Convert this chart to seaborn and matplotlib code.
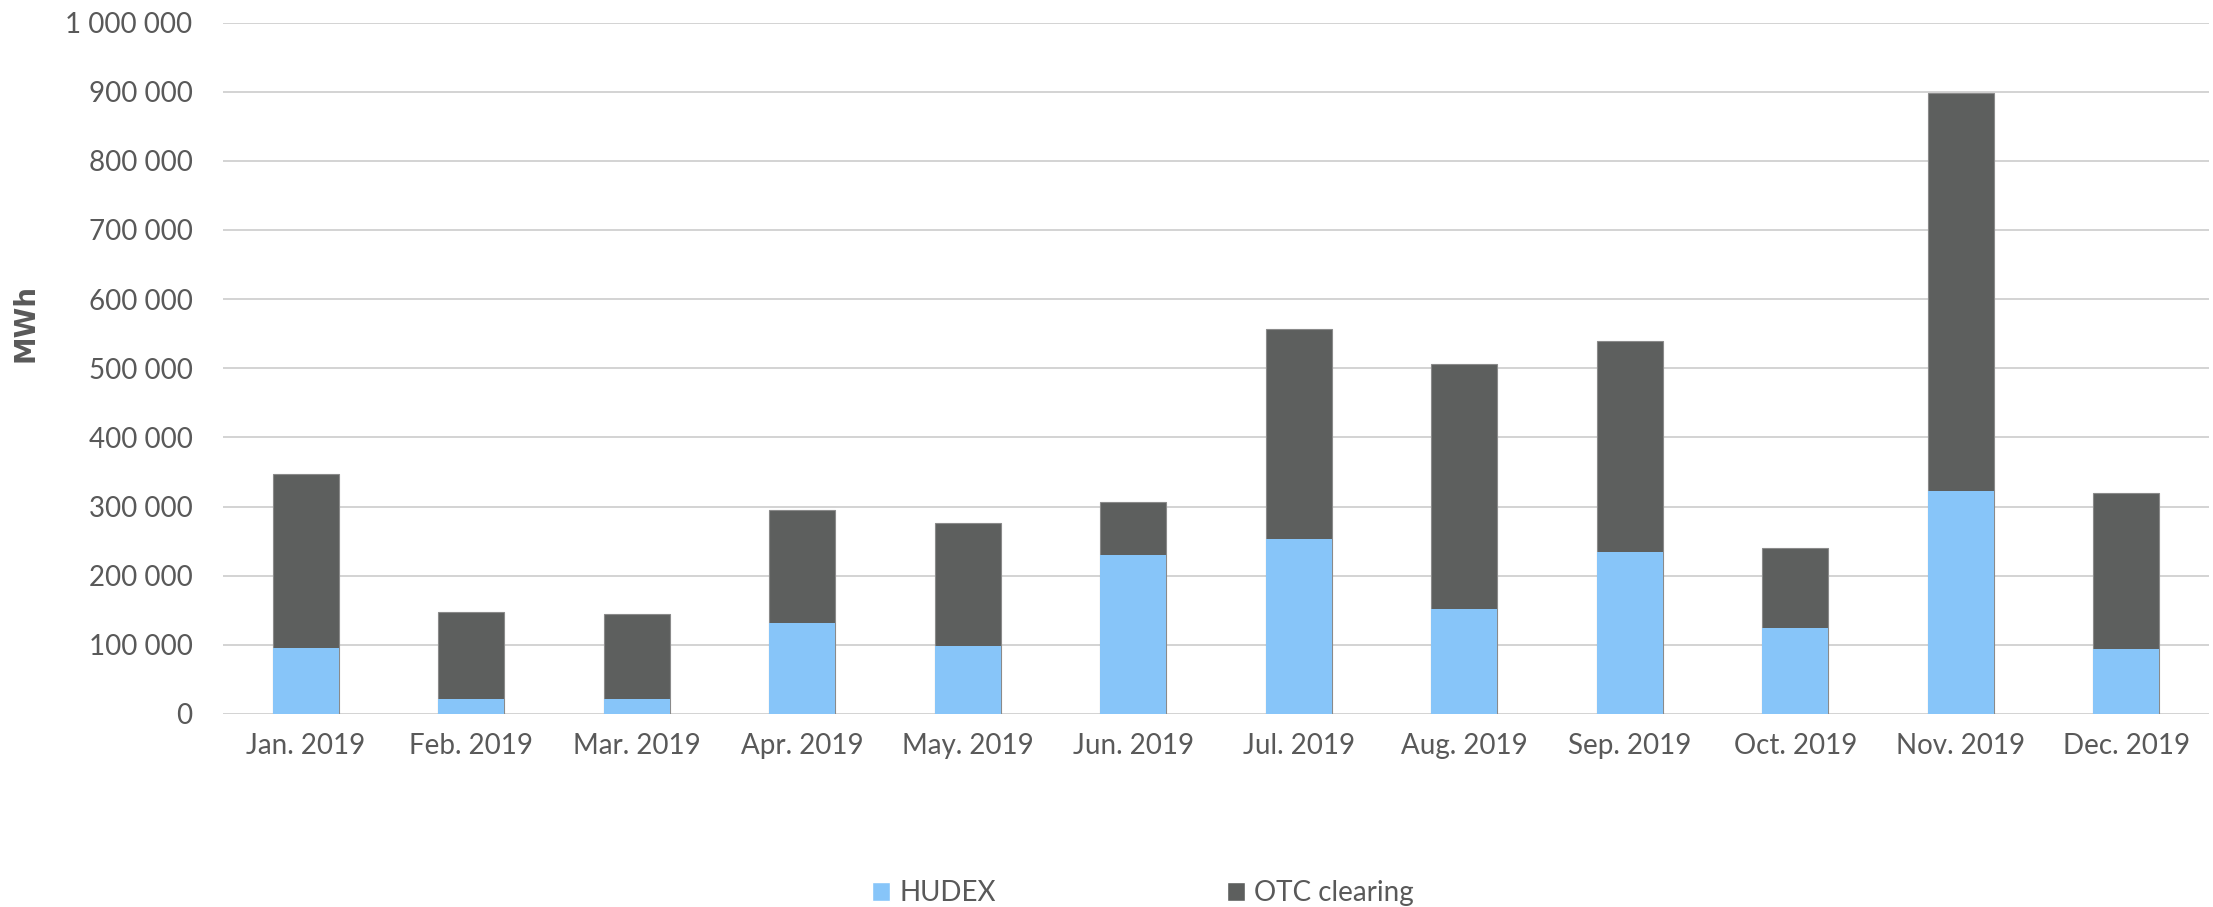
import matplotlib
matplotlib.use("Agg")
import matplotlib.pyplot as plt
import seaborn as sns
import pandas as pd
from matplotlib.ticker import FuncFormatter, MultipleLocator
from matplotlib.patches import Patch

months = ["Jan. 2019", "Feb. 2019", "Mar. 2019", "Apr. 2019", "May. 2019", "Jun. 2019",
          "Jul. 2019", "Aug. 2019", "Sep. 2019", "Oct. 2019", "Nov. 2019", "Dec. 2019"]
hudex = [95400, 22400, 22400, 131200, 98400, 229800, 252900, 151700, 234600, 123700, 322000, 94700]
otc = [251700, 125400, 122400, 164100, 177600, 77500, 303500, 355000, 304900, 116100, 575600, 224500]

c_hudex = "#87C5F9"
c_otc = "#5D5F5E"
txt = "#595959"

sns.set_theme(style="white")
plt.rcParams['font.family'] = ['Lato', 'DejaVu Sans']

df = pd.DataFrame({"month": months, "HUDEX": hudex, "OTC": otc})
df["total"] = df["HUDEX"] + df["OTC"]

fig = plt.figure(figsize=(22.13, 9.07), dpi=100)
ax = fig.add_axes([223/2213, 1-714/907, (2209-223)/2213, (714-22.5)/907])

sns.barplot(data=df, x="month", y="total", color=c_otc, width=0.4, ax=ax,
            edgecolor="#8a8a8a", linewidth=0.8, saturation=1)
sns.barplot(data=df, x="month", y="HUDEX", color=c_hudex, width=0.4, ax=ax,
            linewidth=0, saturation=1)

ax.set_ylim(0, 1000000)
ax.set_xlim(-0.5, len(months)-0.5)
ax.yaxis.set_major_locator(MultipleLocator(100000))
ax.yaxis.set_major_formatter(FuncFormatter(lambda v, p: f"{int(v):,}".replace(",", " ")))
ax.grid(axis="y", color="#D0D0D0", linewidth=1.3)
ax.set_axisbelow(True)
for s in ax.spines.values():
    s.set_visible(False)
ax.tick_params(axis="both", length=0, labelsize=20, labelcolor=txt)
ax.tick_params(axis="y", pad=22)
ax.tick_params(axis="x", pad=14)
ax.set_xlabel("")
ax.set_ylabel("MWh", fontsize=20, fontweight="bold", color=txt, family=["DejaVu Sans"])
ax.yaxis.set_label_coords(-(223-40)/1986, 0.565)

handles = [Patch(facecolor=c_hudex, label="HUDEX"), Patch(facecolor=c_otc, label="OTC clearing")]
fig.legend(handles=handles, loc="center", bbox_to_anchor=(1143/2213, 1-893/907), ncol=2,
           frameon=False, fontsize=20, labelcolor=txt, handlelength=0.65, handleheight=0.65,
           handletextpad=0.33, columnspacing=8.3, borderpad=0, borderaxespad=0)

fig.savefig("out.png", dpi=100)
